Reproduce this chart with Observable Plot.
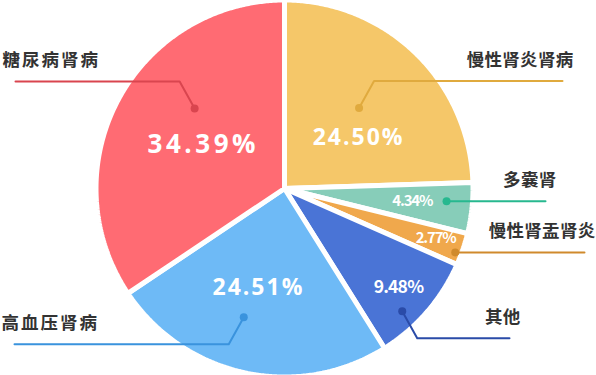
<!DOCTYPE html>
<html><head><meta charset="utf-8">
<script src="https://cdn.jsdelivr.net/npm/d3@7"></script>
<script src="https://cdn.jsdelivr.net/npm/@observablehq/plot@0.6"></script>
<style>body{margin:0;background:#fff;overflow:hidden}</style>
</head><body><div id="chart"></div>
<script>
// ---- data ----
const categories = ["慢性肾炎肾病", "多囊肾", "慢性肾盂肾炎", "其他", "高血压肾病", "糖尿病肾病"];
const values = [24.50, 4.34, 2.77, 9.48, 24.51, 34.39];
const pctLabels = ["24.50%", "4.34%", "2.77%", "9.48%", "24.51%", "34.39%"];

// ---- styles ----
const sliceColors = ["#F5C769", "#87CDB9", "#F0A84C", "#4A74D6", "#6EBAF6", "#FF6B73"];
const lineColors  = ["#E0AA3E", "#27B88F", "#D08A2C", "#2A4BA8", "#3A93DD", "#D9454F"];
const pctFontSize = [23, 15, 15, 17.5, 23, 26];
const pctSpacing  = [2, -1.2, -1.2, -0.8, 2, 3.5];
const pctFont = ["Open Sans", "Noto Sans CJK SC", "Noto Sans CJK SC", "Noto Sans CJK SC", "Open Sans", "Open Sans"];

// ---- layout ----
const W = 596, H = 375;
const cx = 284, cy = 188, R0 = 186, gap = 5;
const R = R0 + gap / 2;
const dotShiftDeg = [-1.3, -1.5, 1.7, 5.3, 5.5, 13.6];
const dotRadiusFrac = [0.59, 0.874, 0.98, 0.914, 0.726, 0.647];
const hasElbow = [true, false, false, true, true, true];
const lineEnd = [562, 545, 584, 509, 14, 15];
const labelShiftDeg = [11.3, -0.5, -0.7, 0, 2.7, 0];
const labelRadiusFrac = [0.484, 0.69, 0.855, 0.81, 0.55, 0.495];

const arcs = d3.pie().sort(null).value(d => d)(values);
const rad = Math.PI / 180;
const pol = (a, r) => ({x: cx + r * Math.sin(a), y: cy - r * Math.cos(a)});

const marks = [];
// slices
arcs.forEach((a, i) => {
  const pts = [{x: cx, y: cy}];
  const n = Math.max(4, Math.ceil((a.endAngle - a.startAngle) / (0.5 * rad)));
  for (let j = 0; j <= n; j++) pts.push(pol(a.startAngle + (a.endAngle - a.startAngle) * j / n, R));
  marks.push(Plot.line(pts, {x: "x", y: "y", curve: "linear-closed", fill: sliceColors[i],
    stroke: "white", strokeWidth: gap, strokeLinejoin: "miter"}));
});
// leader lines, dots, category labels, percent labels
arcs.forEach((a, i) => {
  const mid = (a.startAngle + a.endAngle) / 2;
  const p0 = pol(mid + dotShiftDeg[i] * rad, dotRadiusFrac[i] * R0);
  const sx = Math.sign(p0.x - cx), sy = Math.sign(p0.y - cy);
  const p1 = hasElbow[i] ? {x: p0.x + 15 * sx, y: p0.y + 27 * sy} : p0;
  const p2 = {x: lineEnd[i], y: p1.y};
  const right = p2.x > cx;
  marks.push(Plot.line([p0, p1, p2], {x: "x", y: "y", stroke: lineColors[i], strokeWidth: 2}));
  marks.push(Plot.dot([p0], {x: "x", y: "y", r: 4, fill: lineColors[i]}));
  marks.push(Plot.text([{x: p2.x + (right ? 11 : -13), y: p2.y - 21, t: categories[i]}],
    {x: "x", y: "y", text: "t", textAnchor: right ? "end" : "start", fontSize: 17.5,
     fontWeight: "bold", fill: "#333"}));
  const lp = pol(mid + labelShiftDeg[i] * rad, labelRadiusFrac[i] * R0);
  marks.push(Plot.text([{...lp, t: pctLabels[i]}], {x: "x", y: "y", text: "t", fill: "white",
    fontSize: pctFontSize[i], fontWeight: "bold"}));
});

const chart = Plot.plot({
  width: W, height: H, margin: 0,
  x: {domain: [0, W], range: [0, W], axis: null},
  y: {domain: [0, H], range: [0, H], axis: null},
  style: {fontFamily: "'Noto Sans CJK SC', 'Noto Sans', sans-serif", background: "white"},
  marks
});
d3.select(chart).selectAll("text").each(function () {
  const t = this.textContent;
  const pi = pctLabels.indexOf(t);
  const ci = categories.indexOf(t);
  if (pi >= 0) {
    this.style.letterSpacing = pctSpacing[pi] + "px";
    this.style.fontFamily = `"${pctFont[pi]}", sans-serif`;
  } else if (ci >= 0) {
    this.style.letterSpacing = (lineEnd[ci] > cx ? 0.3 : 2) + "px";
  }
});
document.getElementById("chart").appendChild(chart);
</script>
</body></html>
